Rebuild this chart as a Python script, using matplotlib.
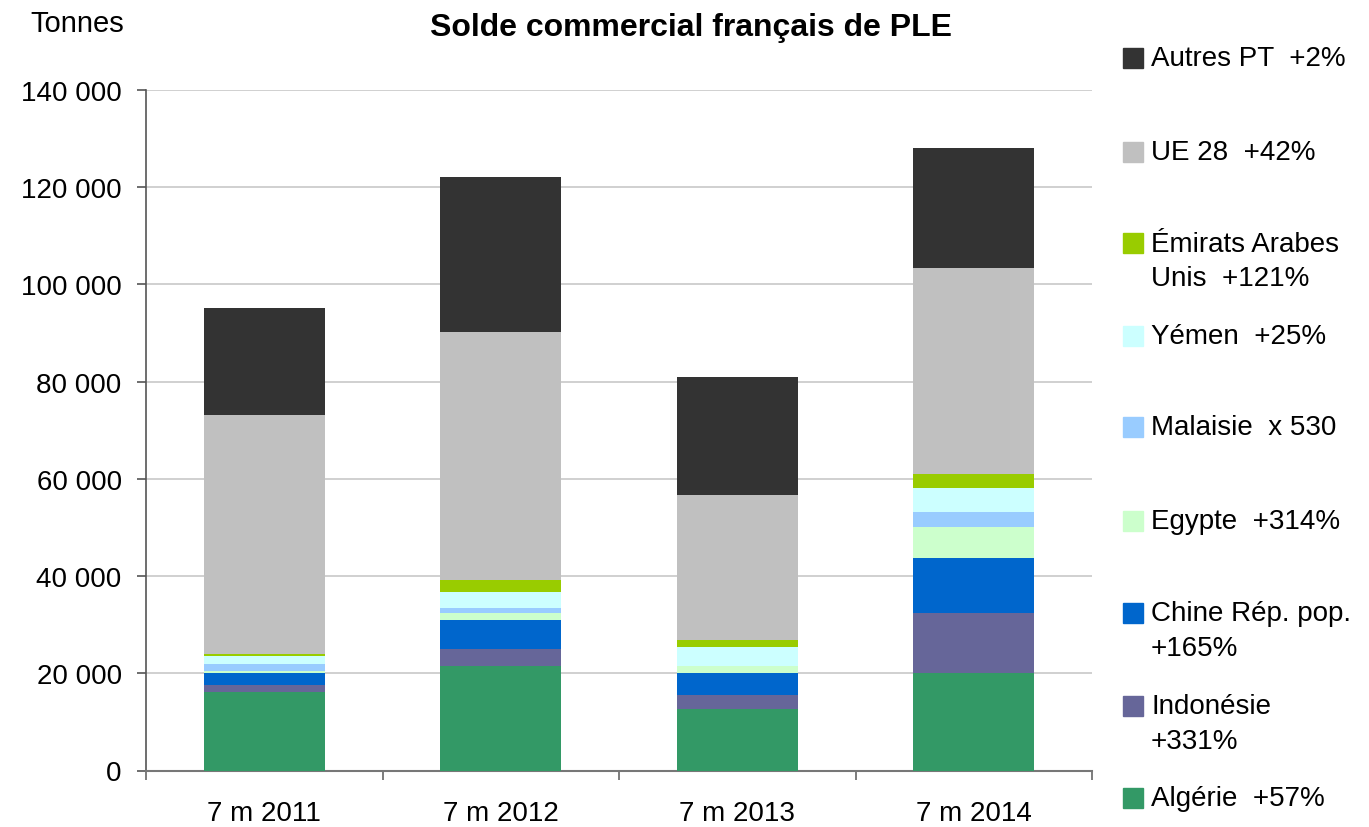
import numpy as np
import matplotlib
matplotlib.use("Agg")
from matplotlib import pyplot as plt
from matplotlib.patches import Rectangle

plt.rcParams['font.family'] = ['Liberation Sans', 'DejaVu Sans']

periods = ['7 m 2011', '7 m 2012', '7 m 2013', '7 m 2014']

# tonnes, bottom to top
algerie = [16200, 21500, 12700, 20100]
indonesie = [1400, 3500, 2800, 12300]
chine = [2500, 6000, 4600, 11300]
egypte = [300, 1400, 1400, 6400]
malaisie = [1500, 1100, 10, 3100]
yemen = [1700, 3200, 3900, 5000]
emirats = [400, 2500, 1500, 2800]
ue28 = [49200, 51100, 29800, 42400]
autres = [22000, 31700, 24300, 24600]

series = [algerie, indonesie, chine, egypte, malaisie, yemen, emirats, ue28, autres]
labels = ['Algérie  +57%', 'Indonésie\n+331%', 'Chine Rép. pop.\n+165%',
          'Egypte  +314%', 'Malaisie  x 530', 'Yémen  +25%',
          'Émirats Arabes\nUnis  +121%', 'UE 28  +42%', 'Autres PT  +2%']
colors = ['#339966', '#666699', '#0066CC', '#CCFFCC', '#99CCFF',
          '#CCFFFF', '#99CC00', '#C0C0C0', '#333333']

W, H = 1369, 828
fig = plt.figure(figsize=(13.69, 8.28), dpi=100)
ax = fig.add_axes([146/W, 1 - 771.5/H, (1092 - 146)/W, (771.5 - 91)/H])

x = np.arange(len(periods))
bottom = np.zeros(len(periods))
for vals, col in zip(series, colors):
    ax.bar(x, vals, 0.51, bottom=bottom, color=col, zorder=3)
    bottom += np.array(vals)

ax.set_xlim(-0.5, 3.5)
ax.set_ylim(0, 140000)
ax.set_yticks(np.arange(0, 140001, 20000))
ax.set_yticklabels(['{:,}'.format(v).replace(',', ' ') for v in range(0, 140001, 20000)])
ax.yaxis.grid(True, color='#C8C8C8', linewidth=1.2, zorder=0)
ax.set_xticks(x)
ax.set_xticklabels(periods)
ax.set_xticks(np.arange(-0.5, 4, 1), minor=True)
ax.tick_params(axis='x', which='major', length=0, labelsize=20, pad=21)
ax.tick_params(axis='x', which='minor', length=6.5, width=1.2, color='#666666', direction='out')
ax.tick_params(axis='y', labelsize=20, length=6.5, width=1.2, color='#555555', pad=11)
for s in ['top', 'right']:
    ax.spines[s].set_visible(False)
ax.spines['left'].set_color('#555555')
ax.spines['bottom'].set_color('#777777')
ax.spines['left'].set_linewidth(1.2)
ax.spines['bottom'].set_linewidth(1.5)

fig.text(691/W, 1 - 36/H, 'Solde commercial français de PLE', ha='center', va='baseline',
         fontsize=23, fontweight='bold')
fig.text(30/W, 1 - 32/H, 'Tonnes', ha='left', va='baseline', fontsize=21)

# legend, top entry first
centers = [59, 153, 244, 337, 428, 522, 614, 707, 799]
for yc, lab, col in zip(centers, labels[::-1], colors[::-1]):
    fig.patches.append(Rectangle((1123/W, 1 - (yc + 10)/H), 20/W, 20/H,
                                 transform=fig.transFigure, color=col))
    for k, line in enumerate(lab.split('\n')):
        fig.text(1151/W, 1 - (yc + 7.5 + 35*k)/H, line, ha='left', va='baseline',
                 fontsize=20)

fig.savefig('out.png', dpi=100)
